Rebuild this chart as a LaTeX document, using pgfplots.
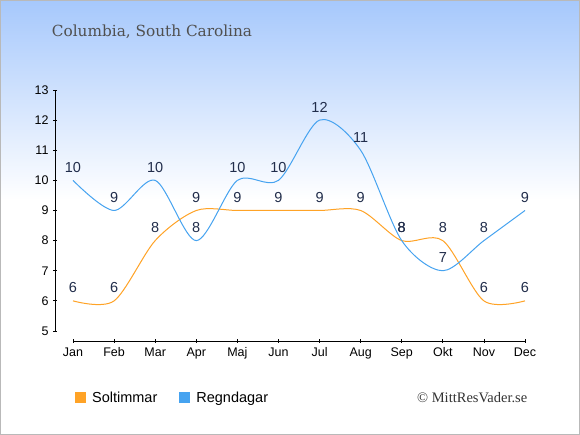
\documentclass[border=0pt]{standalone}
\usepackage{pgfplots}
\pgfplotsset{compat=1.18}
\usepackage{fontspec}
\setmainfont{Liberation Sans}
\newfontfamily\titlefont{DejaVu Serif}
\newfontfamily\wmfont{Liberation Serif}
\definecolor{sunc}{RGB}{255,163,38}
\definecolor{rainc}{RGB}{70,163,240}
\definecolor{labc}{RGB}{33,45,75}
\definecolor{bgtop}{RGB}{166,200,252}
\definecolor{titc}{RGB}{80,80,80}
\definecolor{wmc}{RGB}{51,51,51}
\begin{document}
\begin{tikzpicture}[x=1pt,y=1pt]
\fill[white] (0,0) rectangle (580,435);
\shade[top color=bgtop, bottom color=white] (0,235) rectangle (580,435);
\draw[gray!55, line width=1pt] (0.5,0.5) rectangle (579.5,434.5);
\node[anchor=west, inner sep=0pt, text=titc, font=\titlefont\fontsize{15.3}{17}\selectfont] at (51.7,403) {Columbia, South Carolina};
\begin{axis}[
  at={(55pt,94pt)}, anchor=south west, scale only axis,
  width=470pt, height=251pt,
  xmin=-0.438, xmax=11, ymin=4.668, ymax=13,
  axis x line*=bottom, axis y line*=left, axis line style={draw=none},
  xtick={0,...,11},
  xticklabels={Jan,Feb,Mar,Apr,Maj,Jun,Jul,Aug,Sep,Okt,Nov,Dec},
  ytick={5,...,13},
  tick align=center, major tick length=4pt,
  tick style={black, line width=0.8pt},
  ticklabel style={font=\fontsize{12.5}{13}\selectfont, text=black},
  xticklabel style={yshift=-1pt},
  yticklabel style={xshift=-1pt},
  /pgf/number format/assume math mode=true,
  clip=false,
  nodes near coords,
  every node near coord/.append style={anchor=center, yshift=13pt, inner sep=0pt, font=\fontsize{14.5}{15}\selectfont, text=labc},
  legend style={draw=none, fill=none, at={(0.036,-0.227)}, anchor=west,
    legend columns=2, font=\fontsize{14.5}{15}\selectfont,
    /tikz/every even column/.append style={column sep=20pt}},
  legend cell align=left,
  legend image code/.code={\fill[#1] (0pt,-5pt) rectangle (10pt,5pt); \path (14pt,0pt);},
]
\draw[black, line width=0.8pt] (axis cs:-0.438,5) -- (axis cs:-0.438,13);
\draw[black, line width=0.8pt] (axis cs:0,4.668) -- (axis cs:11,4.668);
\addplot[sunc, line width=1pt, smooth, mark=none] coordinates {(0,6)(1,6)(2,8)(3,9)(4,9)(5,9)(6,9)(7,9)(8,8)(9,8)(10,6)(11,6)};
\addlegendentry{Soltimmar}
\addplot[rainc, line width=1pt, smooth, mark=none] coordinates {(0,10)(1,9)(2,10)(3,8)(4,10)(5,10)(6,12)(7,11)(8,8)(9,7)(10,8)(11,9)};
\addlegendentry{Regndagar}
\end{axis}
\node[anchor=west, inner sep=0pt, font=\wmfont\fontsize{14.5}{15}\selectfont, text=wmc] at (417,37) {© MittResVader.se};
\end{tikzpicture}
\end{document}
